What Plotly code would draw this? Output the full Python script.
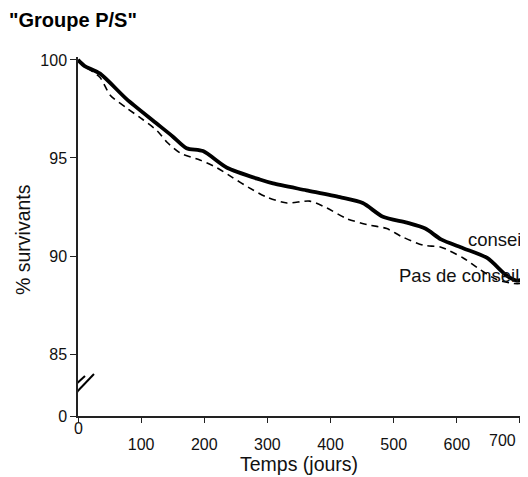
import plotly.graph_objects as go

# Data
t_conseil = [0, 10, 35, 77, 119, 150, 172, 198, 236, 288, 309, 362, 415, 451, 483, 521, 550, 575, 610, 648, 679, 695, 710]
v_conseil = [100, 99.7, 99.3, 98.0, 96.9, 96.1, 95.5, 95.35, 94.5, 93.9, 93.7, 93.35, 93.0, 92.7, 92.0, 91.7, 91.4, 90.85, 90.4, 89.9, 89.0, 88.75, 88.85]

t_pas = [0, 10, 35, 51, 77, 103, 125, 141, 162, 193, 220, 245, 270, 299, 331, 367, 394, 426, 458, 489, 512, 547, 575, 610, 637, 663, 690, 705]
v_pas = [100, 99.7, 99.1, 98.2, 97.55, 96.95, 96.4, 95.8, 95.25, 94.9, 94.5, 94.0, 93.5, 93.0, 92.7, 92.8, 92.45, 91.9, 91.6, 91.4, 91.0, 90.55, 90.45, 89.9, 89.3, 88.8, 88.6, 88.6]

x_ticks = [0, 100, 200, 300, 400, 500, 600, 700]
x_ticktext = ["", "100", "200", "300", "400", "500", "600", ""]
y_tickvals = [81.84, 85, 90, 95, 100]
y_ticktext = ["0", "85", "90", "95", "100"]

FONT = "Liberation Sans, Arial, sans-serif"
# page has an 8px body margin: figure is placed at (8, 8)
W, H = 520, 469
L, T, B = 70, 49, 61
PW, PH = W - L, H - T - B

fig = go.Figure()
fig.add_trace(go.Scatter(x=t_pas, y=v_pas, mode="lines",
                         line=dict(color="black", width=1.6, dash="7px,5px", shape="spline", smoothing=0.7),
                         showlegend=False, hoverinfo="skip"))
fig.add_trace(go.Scatter(x=t_conseil, y=v_conseil, mode="lines",
                         line=dict(color="black", width=3.8, shape="spline", smoothing=0.7),
                         showlegend=False, hoverinfo="skip"))

fig.update_layout(
    width=W, height=H,
    margin=dict(l=L, r=0, t=T, b=B),
    paper_bgcolor="white", plot_bgcolor="white",
    font=dict(family=FONT, size=17, color="#111"),
    title=dict(text='<b>"Groupe P/S"</b>', x=1/W, y=1 - 12/H, xref="container", yref="container",
               xanchor="left", yanchor="middle", font=dict(family=FONT, size=20, color="black")),
    xaxis=dict(range=[0, 712.7], tickvals=x_ticks, ticktext=x_ticktext, showgrid=False, zeroline=False,
               showline=True, linecolor="#222", linewidth=1.5, ticks="outside", ticklen=5,
               tickcolor="#222", tickfont=dict(size=16), ticklabelstandoff=8,
               ticklabeloverflow="allow"),
    yaxis=dict(range=[81.84, 100.15], tickvals=y_tickvals, ticktext=y_ticktext, showgrid=False,
               zeroline=False, showline=True, linecolor="#222", linewidth=1.5, ticks="outside",
               ticklen=6, tickcolor="#222", tickfont=dict(size=16)),
    showlegend=False,
)

# axis break marks
fig.add_shape(type="line", xref="x", yref="y", x0=-23.8, y0=82.86, x1=11.1, y1=83.88,
              line=dict(color="black", width=2), layer="above")
fig.add_shape(type="line", xref="x", yref="y", x0=-9.5, y0=82.81, x1=25.3, y1=83.98,
              line=dict(color="black", width=2), layer="above")

fig.add_annotation(text="0", xref="x", yref="paper", x=0, y=-(428 - 416) / PH, xanchor="center",
                   yanchor="middle", showarrow=False, font=dict(size=16))
fig.add_annotation(text="700", xref="x", yref="paper", x=700, xshift=-2, y=-(440 - 416) / PH,
                   xanchor="right", yanchor="middle", showarrow=False, font=dict(size=16))
fig.add_annotation(text="conseil", xref="x", yref="y", x=615, y=90.82, xanchor="left",
                   yanchor="middle", showarrow=False, font=dict(size=18.5))
fig.add_annotation(text="Pas de conseil", xref="x", yref="y", x=506, y=89.03, xanchor="left",
                   yanchor="middle", showarrow=False, font=dict(size=18.5))
fig.add_annotation(text="% survivants", xref="paper", yref="paper", x=(23 - 78) / PW, y=(416 - 240) / PH,
                   textangle=-90, xanchor="center", yanchor="middle", showarrow=False,
                   font=dict(size=19.5))
fig.add_annotation(text="Temps (jours)", xref="paper", yref="paper", x=(299 - 78) / PW, y=-(464 - 416) / PH,
                   xanchor="center", yanchor="middle", showarrow=False, font=dict(size=19.5))

fig.write_html("out.html")
